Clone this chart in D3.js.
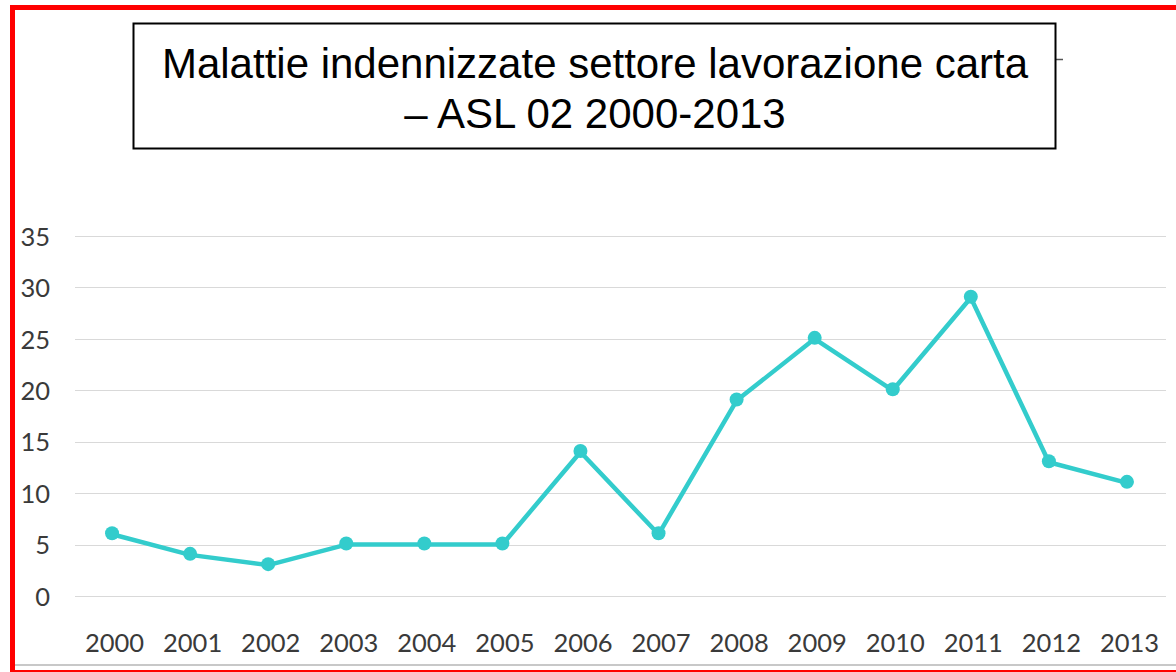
<!DOCTYPE html>
<html>
<head>
<meta charset="utf-8">
<script src="https://cdn.jsdelivr.net/npm/d3@7"></script>
<style>
  body { margin: 0; background: #fff; }
  .tick-label { font-family: Lato, "Open Sans", sans-serif; font-size: 25.5px; fill: #3a3a3a; }
  .title-text { font-family: "Liberation Sans", Arial, sans-serif; font-size: 42px; fill: #000; }
</style>
</head>
<body>
<div class="chart"></div>
<script>
// occupational diseases, paper processing sector, ASL 02

var years = ["2000", "2001", "2002", "2003", "2004", "2005", "2006",
  "2007", "2008", "2009", "2010", "2011", "2012", "2013"];
var cases = [6, 4, 3, 5, 5, 5, 14, 6, 19, 25, 20, 29, 13, 11];
var yTicks = [0, 5, 10, 15, 20, 25, 30, 35];
var titleLines = ["Malattie indennizzate settore lavorazione carta", "\u2013 ASL 02 2000-2013"];

var svgWidth = 1176;
var svgHeight = 672;

var margin = {
  top: 236,
  right: 10,
  bottom: 75,
  left: 73
};

var width = svgWidth - margin.left - margin.right;
var height = svgHeight - margin.top - margin.bottom;

var svg = d3
  .select(".chart")
  .append("svg")
  .attr("width", svgWidth)
  .attr("height", svgHeight);

// grey line along the bottom + red frame
svg.append("line")
  .attr("x1", 15).attr("x2", svgWidth)
  .attr("y1", 665).attr("y2", 665)
  .attr("stroke", "#c8c8c8")
  .attr("stroke-width", 2);

svg.append("rect")
  .attr("x", 12.5)
  .attr("y", 7.5)
  .attr("width", svgWidth + 20)
  .attr("height", 665)
  .attr("fill", "none")
  .attr("stroke", "#ff0000")
  .attr("stroke-width", 5);

var chartGroup = svg.append("g")
  .attr("transform", `translate(${margin.left}, ${margin.top})`);

// scales
var xScale = d3.scalePoint()
  .domain(years)
  .range([0, width])
  .padding(0.5);

var yScale = d3.scaleLinear()
  .domain([0, 35])
  .range([height - 1, 0]);

// gridlines
chartGroup.append("g")
  .selectAll("line")
  .data(yTicks)
  .enter()
  .append("line")
  .attr("x1", 2)
  .attr("x2", width)
  .attr("y1", d => Math.round(yScale(d)) + 0.5)
  .attr("y2", d => Math.round(yScale(d)) + 0.5)
  .attr("stroke", "#d9d9d9")
  .attr("stroke-width", 1);

// y axis labels
var leftAxis = d3.axisLeft(yScale).tickValues(yTicks).tickSize(0).tickPadding(23);
var yAxis = chartGroup.append("g").call(leftAxis);
yAxis.select(".domain").remove();
yAxis.selectAll("text").attr("class", "tick-label").attr("dy", "0.36em");

// x axis labels
var bottomAxis = d3.axisBottom(xScale).tickSize(0).tickPadding(37);
var xAxis = chartGroup.append("g")
  .attr("transform", `translate(2, ${height})`)
  .call(bottomAxis);
xAxis.select(".domain").remove();
xAxis.selectAll("text").attr("class", "tick-label");

// line + markers
var line = d3.line()
  .x((d, i) => xScale(years[i]))
  .y(d => yScale(d));

chartGroup.append("path")
  .datum(cases)
  .attr("d", line)
  .attr("fill", "none")
  .attr("stroke", "#33cccc")
  .attr("stroke-width", 4.5)
  .attr("stroke-linejoin", "round");

chartGroup.selectAll("circle")
  .data(cases)
  .enter()
  .append("circle")
  .attr("cx", (d, i) => xScale(years[i]))
  .attr("cy", d => yScale(d) - 1)
  .attr("r", 7)
  .attr("fill", "#33cccc");

// title box
var titleGroup = svg.append("g");

titleGroup.append("line")
  .attr("x1", 1056).attr("x2", 1063)
  .attr("y1", 59.5).attr("y2", 59.5)
  .attr("stroke", "#555")
  .attr("stroke-width", 1.5);

titleGroup.append("rect")
  .attr("x", 133.5)
  .attr("y", 23.5)
  .attr("width", 922)
  .attr("height", 125)
  .attr("fill", "#fff")
  .attr("stroke", "#000")
  .attr("stroke-width", 2);

titleGroup.selectAll("text")
  .data(titleLines)
  .enter()
  .append("text")
  .attr("class", "title-text")
  .attr("x", 595)
  .attr("y", (d, i) => 78 + i * 50)
  .attr("text-anchor", "middle")
  .text(d => d);
</script>
</body>
</html>
